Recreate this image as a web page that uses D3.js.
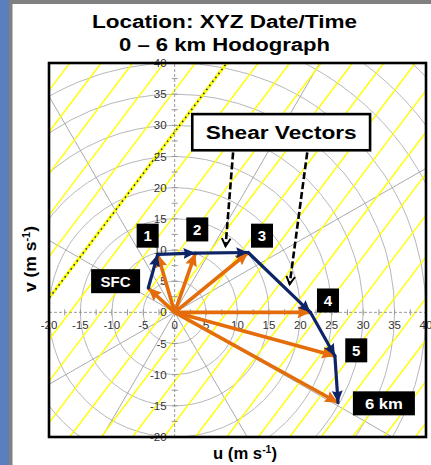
<!DOCTYPE html>
<html>
<head>
<meta charset="utf-8">
<title>0 - 6 km Hodograph</title>
<script src="https://d3js.org/d3.v7.min.js"></script>
<style>
	body { margin: 0; background: #fff; }
	svg { display: block; font-family: "Liberation Sans", Arial, sans-serif; }
	.ring { fill: none; stroke: #b8b8b8; stroke-width: 1; }
	.radial { stroke: #a0a0a0; stroke-width: 0.9; }
	.yellow { stroke: #ffff00; stroke-width: 1.4; }
	.axisline { stroke: #999; stroke-width: 1; stroke-dasharray: 3,2; }
	.tick { stroke: #999; stroke-width: 1; }
	.ticklabel { font-size: 11.5px; fill: #333; }
	.box { fill: #000; }
	.boxtext { fill: #fff; font-weight: bold; text-anchor: middle; }
</style>
</head>
<body>
<div id="chart"></div>
<script>
	// hodograph levels, winds in m/s
	var levels = ["SFC", "1", "2", "3", "4", "5", "6 km"];
	var uWind = [-4.2, -2.7, 3.3, 11.7, 21.6, 25.5, 26];
	var vWind = [3.9, 9.3, 9.5, 9.6, 0, -7, -14.5];

	// label box centres (data units)
	var labelU = [-9.4, -4.3, 3.6, 13.9, 24.4, 28.9, 33.3];
	var labelV = [5.0, 12.3, 13.3, 12.3, 1.9, -6.1, -14.6];

	var tickValues = [-20, -15, -10, -5, 0, 5, 10, 15, 20, 25, 30, 35, 40];
	var ringRadii = [5, 10, 15, 20, 25, 30, 35, 40, 45, 50, 55, 60];
	var radialAngles = [30, 60, 120, 150, 210, 240, 300, 330];

	// yellow guide lines: u where they cross v = 0
	var guideU0 = [];
	for (var g = -46.7; g < 75; g += 5) guideU0.push(g);
	var highlightU0 = -21.7;

	// shear vector call-outs: start (box bottom) -> end
	var shearFrom = [[9.3, 25.9], [21.1, 25.9]];
	var shearTo = [[8.1, 10.6], [18.3, 4.5]];

	var width = 431, height = 465;

	var svg = d3.select("#chart").append("svg")
		.attr("width", width)
		.attr("height", height);

	// page frame
	svg.append("rect").attr("x", 0).attr("y", 0).attr("width", 9).attr("height", height).attr("fill", "#5a7ebf");
	svg.append("rect").attr("x", 9).attr("y", 0).attr("width", 3.5).attr("height", height).attr("fill", "#808080");
	svg.append("rect").attr("x", 9).attr("y", 0).attr("width", width - 9).attr("height", 4).attr("fill", "#808080");

	var x = d3.scaleLinear().domain([-20, 40]).range([49, 426]);
	var y = d3.scaleLinear().domain([-20, 40]).range([437, 63]);

	svg.append("clipPath").attr("id", "plotclip")
		.append("rect")
		.attr("x", x(-20)).attr("y", y(40))
		.attr("width", x(40) - x(-20)).attr("height", y(-20) - y(40));

	var plot = svg.append("g").attr("clip-path", "url(#plotclip)");

	// rings
	plot.selectAll(".ring").data(ringRadii).enter()
		.append("ellipse")
		.attr("class", "ring")
		.attr("cx", x(0)).attr("cy", y(0))
		.attr("rx", function(d) { return x(d) - x(0); })
		.attr("ry", function(d) { return y(0) - y(d); });

	// radials
	plot.selectAll(".radial").data(radialAngles).enter()
		.append("line")
		.attr("class", "radial")
		.attr("x1", x(0)).attr("y1", y(0))
		.attr("x2", function(d) { return x(80 * Math.cos(d * Math.PI / 180)); })
		.attr("y2", function(d) { return y(80 * Math.sin(d * Math.PI / 180)); });

	// yellow lines, slope dv/du = 4/3
	plot.selectAll(".yellow").data(guideU0).enter()
		.append("line")
		.attr("class", "yellow")
		.attr("x1", function(d) { return x(d - 15); }).attr("y1", y(-20))
		.attr("x2", function(d) { return x(d + 30); }).attr("y2", y(40));

	plot.append("line")
		.attr("x1", x(highlightU0 - 15)).attr("y1", y(-20))
		.attr("x2", x(highlightU0 + 30)).attr("y2", y(40))
		.attr("stroke", "#ffff00").attr("stroke-width", 3.2);
	plot.append("line")
		.attr("x1", x(highlightU0 - 15)).attr("y1", y(-20))
		.attr("x2", x(highlightU0 + 30)).attr("y2", y(40))
		.attr("stroke", "#1b2a5e").attr("stroke-width", 1.6)
		.attr("stroke-dasharray", "1.5,3.5");

	// axes (dashed) with minor ticks
	plot.append("line").attr("class", "axisline")
		.attr("x1", x(-20)).attr("x2", x(40)).attr("y1", y(0)).attr("y2", y(0));
	plot.append("line").attr("class", "axisline")
		.attr("x1", x(0)).attr("x2", x(0)).attr("y1", y(-20)).attr("y2", y(40));

	var minor = d3.range(-20, 40.1, 2.5);
	plot.selectAll(".xtick").data(minor).enter()
		.append("line").attr("class", "tick")
		.attr("x1", function(d) { return x(d); }).attr("x2", function(d) { return x(d); })
		.attr("y1", y(0) - 3).attr("y2", y(0) + 3);
	plot.selectAll(".ytick").data(minor).enter()
		.append("line").attr("class", "tick")
		.attr("y1", function(d) { return y(d); }).attr("y2", function(d) { return y(d); })
		.attr("x1", x(0) - 3).attr("x2", x(0) + 3);

	// tick labels
	svg.selectAll(".xlabel").data(tickValues).enter()
		.append("text").attr("class", "ticklabel")
		.attr("x", function(d) { return x(d); })
		.attr("y", y(0) + 17)
		.attr("text-anchor", "middle")
		.text(function(d) { return d; });
	svg.selectAll(".ylabel").data(tickValues).enter()
		.append("text").attr("class", "ticklabel")
		.attr("x", x(0) - 8)
		.attr("y", function(d) { return y(d) + 4; })
		.attr("text-anchor", "end")
		.text(function(d) { return d; });

	// plot frame
	svg.append("rect")
		.attr("x", x(-20)).attr("y", y(40))
		.attr("width", x(40) - x(-20)).attr("height", y(-20) - y(40))
		.attr("fill", "none").attr("stroke", "#000").attr("stroke-width", 2.6);

	// arrow markers
	var defs = svg.append("defs");
	function marker(id, color, len, wid) {
		defs.append("marker").attr("id", id)
			.attr("markerUnits", "userSpaceOnUse")
			.attr("viewBox", "0 0 " + len + " " + wid)
			.attr("refX", len).attr("refY", wid / 2)
			.attr("markerWidth", len).attr("markerHeight", wid)
			.attr("orient", "auto")
			.append("path")
			.attr("d", "M0,0L" + len + "," + (wid / 2) + "L0," + wid + "L" + (len * 0.15) + "," + (wid / 2) + "Z")
			.attr("fill", color);
	}
	marker("orangehead", "#e46c0a", 13, 12);
	marker("bluehead", "#0e2466", 12, 11);

	var pts = levels.map(function(d, i) { return {name: d, u: uWind[i], v: vWind[i], lu: labelU[i], lv: labelV[i]}; });

	// orange wind vectors from origin
	svg.selectAll(".wind").data(pts).enter()
		.append("line")
		.attr("x1", x(0)).attr("y1", y(0))
		.attr("x2", function(d) { return x(d.u); })
		.attr("y2", function(d) { return y(d.v); })
		.attr("stroke", "#e46c0a").attr("stroke-width", 3.6)
		.attr("marker-end", "url(#orangehead)");

	// blue hodograph segments
	svg.selectAll(".seg").data(pts.slice(1)).enter()
		.append("line")
		.attr("x1", function(d, i) { return x(pts[i].u); })
		.attr("y1", function(d, i) { return y(pts[i].v); })
		.attr("x2", function(d) { return x(d.u); })
		.attr("y2", function(d) { return y(d.v); })
		.attr("stroke", "#0e2466").attr("stroke-width", 3.2)
		.attr("stroke-linecap", "round")
		.attr("marker-end", "url(#bluehead)");

	// level labels
	var lab = svg.selectAll(".lab").data(pts).enter().append("g");
	lab.append("rect").attr("class", "box")
		.attr("x", function(d) { return x(d.lu) - (d.name.length > 1 ? 24.5 : 11); })
		.attr("y", function(d) { return y(d.lv) - 12; })
		.attr("width", function(d) { return d.name.length > 1 ? 49 + (d.name.length > 3 ? 13 : 0) : 22; })
		.attr("height", 24);
	lab.select("rect").filter(function(d) { return d.name.length > 3; })
		.attr("x", function(d) { return x(d.lu) - 31; });
	lab.append("text").attr("class", "boxtext")
		.attr("x", function(d) { return x(d.lu); })
		.attr("y", function(d) { return y(d.lv) + 5.5; })
		.style("font-size", "15px")
		.text(function(d) { return d.name; })
		.filter(function(d) { return d.name.length > 1; })
		.style("font-size", "14px")
		.attr("textLength", function(d) { return d.name.length > 3 ? 38 : 30; })
		.attr("lengthAdjust", "spacingAndGlyphs");

	// shear vectors call-out
	svg.append("rect")
		.attr("x", x(2.8)).attr("y", y(31.8))
		.attr("width", x(31.1) - x(2.8)).attr("height", y(26) - y(31.8))
		.attr("fill", "#fff").attr("stroke", "#000").attr("stroke-width", 2.6);
	svg.append("text")
		.attr("x", (x(2.8) + x(31.1)) / 2).attr("y", y(28.9) + 6.5)
		.attr("text-anchor", "middle")
		.style("font-size", "18px").style("font-weight", "bold")
		.attr("textLength", 151).attr("lengthAdjust", "spacingAndGlyphs")
		.text("Shear Vectors");

	shearFrom.forEach(function(s, i) {
		var x1 = x(s[0]), y1 = y(s[1]) + 1.5, x2 = x(shearTo[i][0]), y2 = y(shearTo[i][1]);
		svg.append("line")
			.attr("x1", x1).attr("y1", y1).attr("x2", x2).attr("y2", y2)
			.attr("stroke", "#000").attr("stroke-width", 2.6)
			.attr("stroke-dasharray", "7,3");
		var a = Math.atan2(y2 - y1, x2 - x1), h = 9, w = 0.5;
		svg.append("path")
			.attr("d", "M" + (x2 - h * Math.cos(a - w)) + "," + (y2 - h * Math.sin(a - w)) +
				"L" + x2 + "," + y2 +
				"L" + (x2 - h * Math.cos(a + w)) + "," + (y2 - h * Math.sin(a + w)))
			.attr("fill", "none").attr("stroke", "#000").attr("stroke-width", 2);
	});

	// titles
	svg.append("text").attr("x", 224.5).attr("y", 27.5).attr("text-anchor", "middle")
		.style("font-size", "18px").style("font-weight", "bold")
		.attr("textLength", 265).attr("lengthAdjust", "spacingAndGlyphs")
		.text("Location: XYZ Date/Time");
	svg.append("text").attr("x", 224.5).attr("y", 50.5).attr("text-anchor", "middle")
		.style("font-size", "18px").style("font-weight", "bold")
		.attr("textLength", 211).attr("lengthAdjust", "spacingAndGlyphs")
		.text("0 \u2013 6 km Hodograph");

	// axis titles
	var ut = svg.append("text").attr("x", 245).attr("y", 459).attr("text-anchor", "middle")
		.style("font-size", "16px").style("font-weight", "bold")
		.attr("textLength", 64).attr("lengthAdjust", "spacingAndGlyphs");
	ut.append("tspan").text("u (m s");
	ut.append("tspan").attr("dy", -6).style("font-size", "10px").text("-1");
	ut.append("tspan").attr("dy", 6).text(")");

	var vt = svg.append("text").attr("transform", "translate(36,259) rotate(-90)")
		.attr("text-anchor", "middle")
		.style("font-size", "16px").style("font-weight", "bold")
		.attr("textLength", 66).attr("lengthAdjust", "spacingAndGlyphs");
	vt.append("tspan").text("v (m s");
	vt.append("tspan").attr("dy", -6).style("font-size", "10px").text("-1");
	vt.append("tspan").attr("dy", 6).text(")");
</script>
</body>
</html>
